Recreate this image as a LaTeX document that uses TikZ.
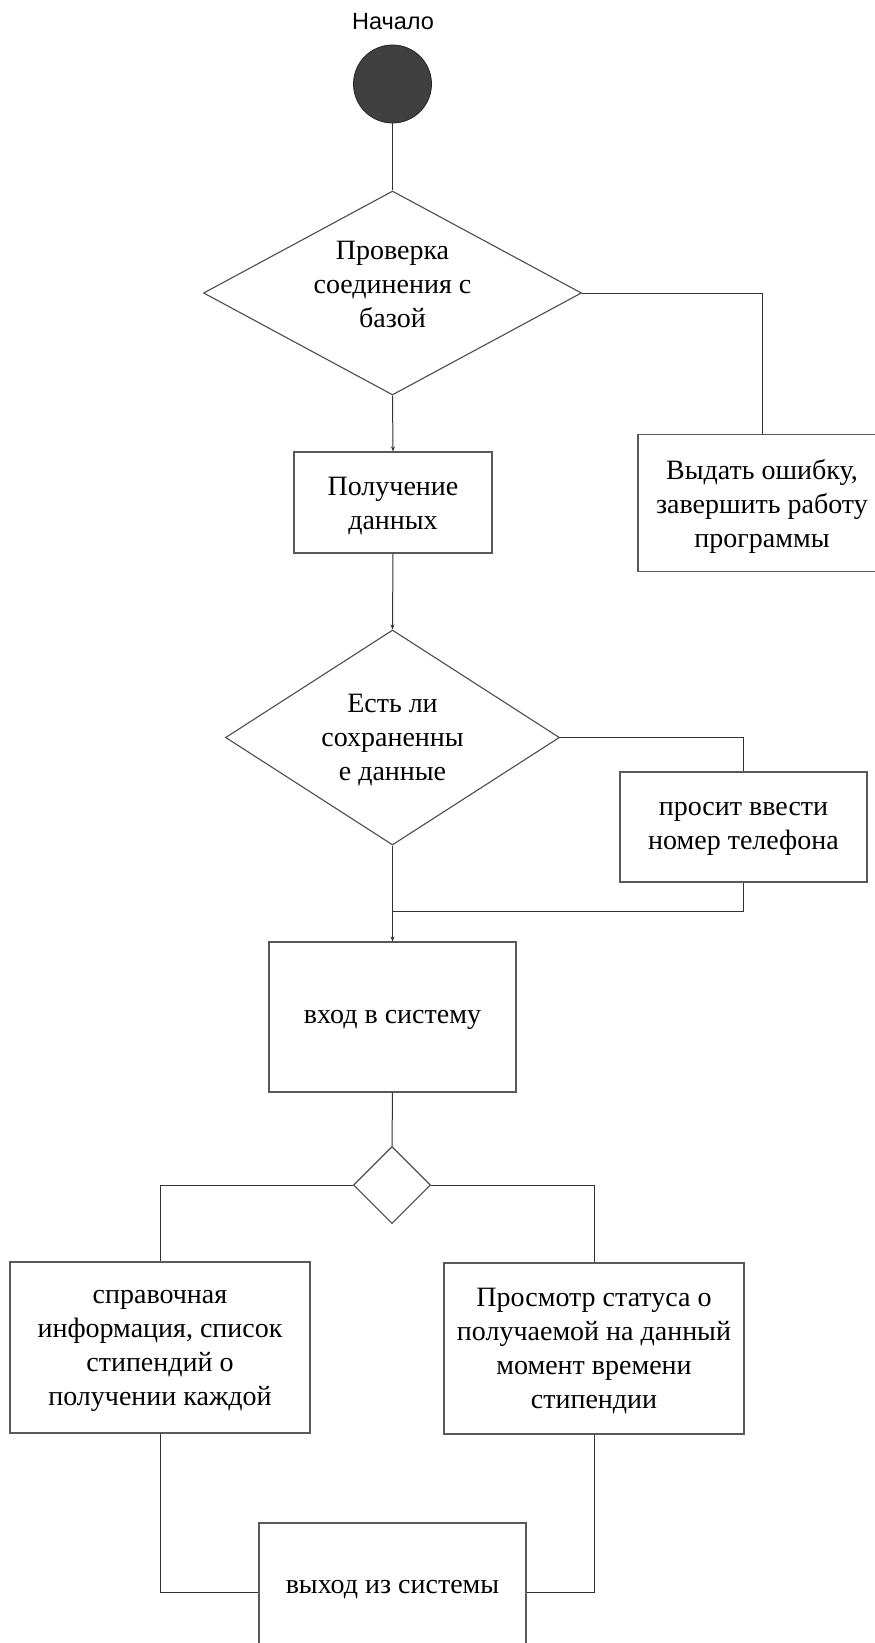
\documentclass[tikz,border=0pt]{standalone}
\usepackage{fontspec}
\setmainfont{Liberation Serif}
\newfontfamily\titlefont{Liberation Sans}
\usetikzlibrary{shapes.geometric,arrows.meta}
\tikzset{
  box/.style={draw=black!65, line width=1.1pt, rectangle, inner sep=0pt, fill=white},
  dia/.style={draw=black!70, line width=1.1pt, diamond, inner sep=0pt, fill=white},
  txt/.style={align=center, font=\fontsize{28}{34}\selectfont, inner sep=0pt},
  conn/.style={draw=black!80, line width=1pt},
  arr/.style={conn, -{Stealth[length=5pt,width=4pt]}},
}
\begin{document}
\begin{tikzpicture}[x=1pt,y=-1pt]
\useasboundingbox (0,0) rectangle (875,1643);
\clip (0,0) rectangle (875,1643);
% title and start
\node[font=\titlefont\fontsize{23.5}{28}\selectfont, inner sep=0pt] (title) at (393,22) {Начало};
\node[circle, fill=black!75, draw=black!85, line width=0.8pt, minimum size=78pt, inner sep=0pt] (start) at (392.5,84) {};
% decision 1
\node[dia, minimum width=378pt, minimum height=204pt] (d1) at (392.5,293) {};
\node[txt] (d1t) at (392.5,284) {Проверка\\соединения с\\базой};
% boxes
\node[box, minimum width=198pt, minimum height=101pt] (poluch) at (393,502.5) {};
\node[txt] (poluchT) at (393,506) {Получение\\данных};
\node[box, minimum width=248pt, minimum height=137pt] (vydat) at (762,503) {};
\node[txt] (vydatT) at (762,506) {Выдать ошибку,\\завершить работу\\программы};
% decision 2
\node[dia, minimum width=334pt, minimum height=215pt] (d2) at (392.5,737.5) {};
\node[txt] (d2t) at (392.5,740) {Есть ли\\сохраненны\\е данные};
\node[box, minimum width=247pt, minimum height=110pt] (prosit) at (743.5,827) {};
\node[txt] (prositT) at (743.5,829) {просит ввести\\номер телефона};
\coordinate (j) at (392.5,911.7);
% login
\node[box, minimum width=247pt, minimum height=150pt] (vhod) at (392.5,1017) {};
\node[txt] (vhodT) at (392.5,1020) {вход в систему};
% small decision
\node[dia, minimum width=77pt, minimum height=77pt] (d3) at (392,1185) {};
% options
\node[box, minimum width=300pt, minimum height=171pt] (sprav) at (160,1347.5) {};
\node[txt] (spravT) at (160,1351) {справочная\\информация, список\\стипендий о\\получении каждой};
\node[box, minimum width=300pt, minimum height=171pt] (prosm) at (594,1348.5) {};
\node[txt] (prosmT) at (594,1351) {Просмотр статуса о\\получаемой на данный\\момент времени\\стипендии};
% exit
\node[box, minimum width=267pt, minimum height=138pt] (vyhod) at (392.5,1592) {};
\node[txt] (vyhodT) at (392.5,1590) {выход из системы};
% connectors
\draw[conn] (start.south) -- (d1.north);
\draw[arr] (d1.south) -- (poluch.north);
\draw[conn] (d1.east) -| (vydat.north);
\draw[arr] (poluch.south) -- (d2.north);
\draw[conn] (d2.east) -| (prosit.north);
\draw[arr] (d2.south) -- (vhod.north);
\draw[conn] (prosit.south) |- (j);
\draw[conn] (vhod.south) -- (d3.north);
\draw[conn] (d3.west) -| (sprav.north);
\draw[conn] (d3.east) -| (prosm.north);
\draw[conn] (sprav.south) |- (vyhod.west);
\draw[conn] (prosm.south) |- (vyhod.east);
\end{tikzpicture}
\end{document}
